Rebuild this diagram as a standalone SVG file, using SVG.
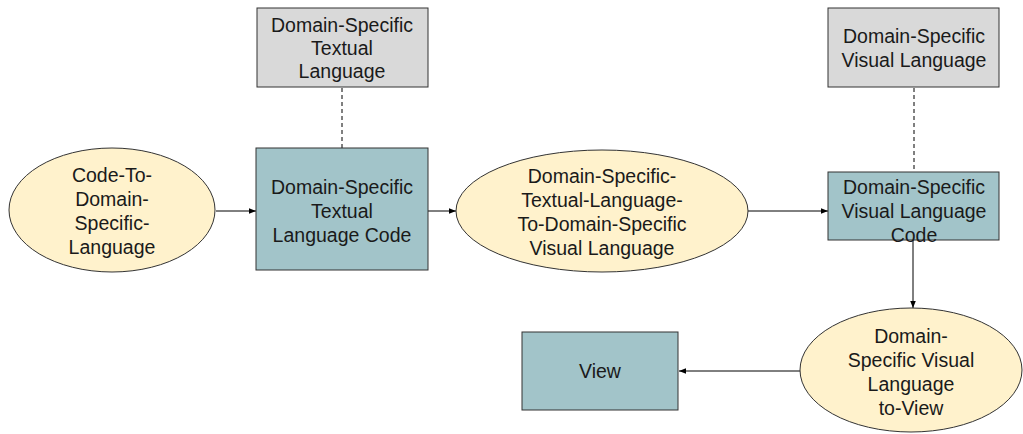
<svg xmlns="http://www.w3.org/2000/svg" width="1023" height="434" viewBox="0 0 1023 434">
  <defs>
    <marker id="arrow" viewBox="0 0 10 10" refX="10" refY="5" markerWidth="7" markerHeight="7" markerUnits="userSpaceOnUse" orient="auto">
      <path d="M0,1 L10,5 L0,9 z" fill="#000"/>
    </marker>
    <style>
      .proc { fill: #fff2cc; stroke: #333; stroke-width: 1; }
      .code { fill: #a2c4c9; stroke: #333; stroke-width: 1; }
      .lang { fill: #d9d9d9; stroke: #333; stroke-width: 1; }
      .label { font-family: "Liberation Sans", Arial, sans-serif; font-size: 19.5px; fill: #1a1a1a; text-anchor: middle; }
      .flow { fill: none; stroke: #000; stroke-width: 1; marker-end: url(#arrow); }
      .link { fill: none; stroke: #000; stroke-width: 1; stroke-dasharray: 4 3; }
    </style>
  </defs>

  <rect width="1023" height="434" fill="#fff"/>

  <g id="connectors">
    <line class="flow" x1="216" y1="211" x2="256" y2="211"/>
    <line class="flow" x1="428" y1="211" x2="456" y2="211"/>
    <line class="flow" x1="748" y1="211" x2="828" y2="211"/>
    <line class="flow" x1="913" y1="240" x2="913" y2="308"/>
    <line class="flow" x1="800" y1="371" x2="679" y2="371"/>
    <line class="link" x1="342" y1="88" x2="342" y2="148"/>
    <line class="link" x1="914" y1="88" x2="914" y2="172"/>
  </g>

  <g id="code-to-dsl">
    <ellipse class="proc" cx="112" cy="210" rx="103" ry="62"/>
    <text class="label" x="112" y="182">Code-To-</text>
    <text class="label" x="112" y="206">Domain-</text>
    <text class="label" x="112" y="230">Specific-</text>
    <text class="label" x="112" y="254">Language</text>
  </g>

  <g id="dstl">
    <rect class="lang" x="257" y="8" width="171" height="79"/>
    <text class="label" x="342" y="32">Domain-Specific</text>
    <text class="label" x="342" y="55">Textual</text>
    <text class="label" x="342" y="78">Language</text>
  </g>

  <g id="dstl-code">
    <rect class="code" x="256" y="148" width="172" height="122"/>
    <text class="label" x="342" y="194">Domain-Specific</text>
    <text class="label" x="342" y="218">Textual</text>
    <text class="label" x="342" y="242">Language Code</text>
  </g>

  <g id="dstl-to-dsvl">
    <ellipse class="proc" cx="602" cy="211" rx="146" ry="61"/>
    <text class="label" x="602" y="183">Domain-Specific-</text>
    <text class="label" x="602" y="207">Textual-Language-</text>
    <text class="label" x="602" y="231">To-Domain-Specific</text>
    <text class="label" x="602" y="255">Visual Language</text>
  </g>

  <g id="dsvl">
    <rect class="lang" x="828" y="8" width="171" height="79"/>
    <text class="label" x="914" y="43">Domain-Specific</text>
    <text class="label" x="914" y="67">Visual Language</text>
  </g>

  <g id="dsvl-code">
    <rect class="code" x="828" y="172" width="171" height="68"/>
    <text class="label" x="914" y="194">Domain-Specific</text>
    <text class="label" x="914" y="218">Visual Language</text>
    <text class="label" x="914" y="242">Code</text>
  </g>

  <g id="dsvl-to-view">
    <ellipse class="proc" cx="911" cy="370" rx="111" ry="62"/>
    <text class="label" x="911" y="343">Domain-</text>
    <text class="label" x="911" y="367">Specific Visual</text>
    <text class="label" x="911" y="391">Language</text>
    <text class="label" x="911" y="415">to-View</text>
  </g>

  <g id="view">
    <rect class="code" x="522" y="332" width="156" height="78"/>
    <text class="label" x="600" y="378">View</text>
  </g>
</svg>
